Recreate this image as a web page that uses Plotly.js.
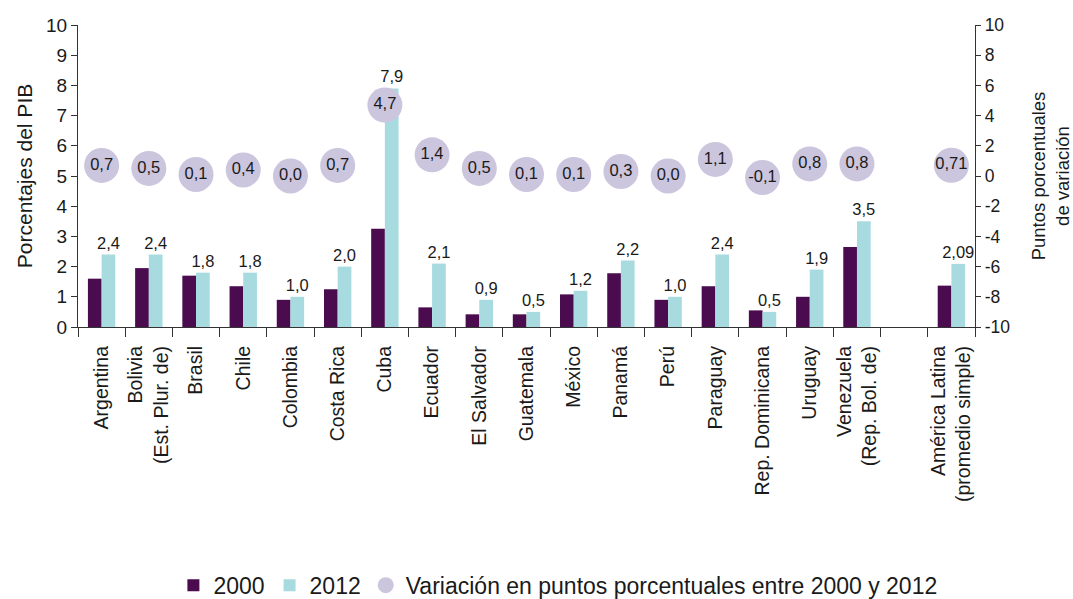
<!DOCTYPE html>
<html>
<head>
<meta charset="utf-8">
<script src="https://cdn.plot.ly/plotly-3.0.1.min.js"></script>
<style>
  html, body { margin: 0; padding: 0; background: #fff; }
  #chart { width: 1073px; height: 599px; }
</style>
</head>
<body>
<div id="chart"></div>
<script>
// Categories (one empty slot before the regional average)
const categories = [
  "Argentina", "Bolivia<br>(Est. Plur. de)", "Brasil", "Chile", "Colombia",
  "Costa Rica", "Cuba", "Ecuador", "El Salvador", "Guatemala", "México",
  "Panamá", "Perú", "Paraguay", "Rep. Dominicana", "Uruguay",
  "Venezuela<br>(Rep. Bol. de)", " ", "América Latina<br>(promedio simple)"
];
// Percent of GDP, 2000
const values2000 = [1.6, 1.95, 1.7, 1.35, 0.9, 1.25, 3.25, 0.65, 0.42, 0.42, 1.08,
                    1.78, 0.9, 1.35, 0.55, 1.0, 2.65, null, 1.37];
// Percent of GDP, 2012 (labelled)
const values2012 = [2.4, 2.4, 1.8, 1.8, 1.0, 2.0, 7.9, 2.1, 0.9, 0.5, 1.2,
                    2.2, 1.0, 2.4, 0.5, 1.9, 3.5, null, 2.09];
// Variation in percentage points 2000-2012 (labelled)
const variation = [0.7, 0.5, 0.1, 0.4, 0.0, 0.7, 4.7, 1.4, 0.5, 0.1, 0.1,
                   0.3, 0.0, 1.1, -0.1, 0.8, 0.8, null, 0.71];
// Right axis tick labels
const rightTickVals = [-10, -8, -6, -4, -2, 0, 2, 4, 6, 8, 10];
const rightTickText = ["-10", "-8", "-6", "-4", "-2", "0", "2", "4", "6", "8", "10"];

const lastIdx = categories.length - 1;
function fmt(v, i) {
  if (v === null) return "";
  return v.toFixed(i === lastIdx ? 2 : 1).replace(".", ",");
}

const FONT = "Liberation Sans, Arial, sans-serif";
const TXT = "#1a1a1a";

const traces = [
  {
    type: "bar", name: "2000", x: categories, y: values2000,
    marker: { color: "#4a0c4f" }, yaxis: "y", hoverinfo: "x+y"
  },
  {
    type: "bar", name: "2012", x: categories, y: values2012,
    marker: { color: "#a7dbe0" }, yaxis: "y",
    text: values2012.map(fmt), textposition: "outside", cliponaxis: false,
    constraintext: "none",
    textfont: { family: FONT, size: 16.5, color: TXT }
  },
  {
    type: "scatter", mode: "markers+text",
    name: "Variación en puntos porcentuales entre 2000 y 2012",
    x: categories, y: variation, yaxis: "y2",
    marker: { size: 35, color: "#cbc5de" },
    text: variation.map(fmt), textposition: "middle center",
    textfont: { family: FONT, size: 16.5, color: TXT },
    cliponaxis: false
  }
];

const layout = {
  width: 1073, height: 599,
  paper_bgcolor: "#fff", plot_bgcolor: "#fff",
  margin: { l: 78, r: 98, t: 25, b: 272, autoexpand: false },
  font: { family: FONT, color: TXT },
  barmode: "group", bargap: 0.42, bargroupgap: 0,
  showlegend: true,
  legend: {
    orientation: "h", x: 0.535, xanchor: "center", y: -0.855, yanchor: "middle",
    font: { family: FONT, size: 23, color: TXT }, traceorder: "normal"
  },
  xaxis: {
    type: "category", range: [-0.5, categories.length - 0.5],
    tickson: "boundaries", ticks: "outside", ticklen: 9,
    tickcolor: "#333", showline: true, linecolor: "#333", linewidth: 1.3,
    tickangle: -90, tickfont: { family: FONT, size: 19.5, color: TXT },
    ticklabelstandoff: 10,
    showgrid: false, zeroline: false, automargin: false
  },
  yaxis: {
    range: [0, 10], dtick: 1, ticks: "outside", ticklen: 6, tickcolor: "#333",
    showline: true, linecolor: "#333", linewidth: 1.3, showgrid: false,
    zeroline: false, tickfont: { family: FONT, size: 19, color: TXT },
    title: { text: "Porcentajes del PIB", font: { family: FONT, size: 21, color: TXT }, standoff: 7 },
    automargin: false
  },
  yaxis2: {
    range: [-10, 10], overlaying: "y", side: "right",
    tickmode: "array", tickvals: rightTickVals, ticktext: rightTickText,
    ticks: "outside", ticklen: 5, tickcolor: "#333",
    showline: true, linecolor: "#333", linewidth: 1.3, showgrid: false,
    zeroline: false, tickfont: { family: FONT, size: 17.5, color: TXT },
    title: { text: "Puntos porcentuales<br>de variación", font: { family: FONT, size: 18.5, color: TXT }, standoff: 22 },
    automargin: false
  }
};

Plotly.newPlot("chart", traces, layout, { displayModeBar: false, responsive: false });
</script>
</body>
</html>
